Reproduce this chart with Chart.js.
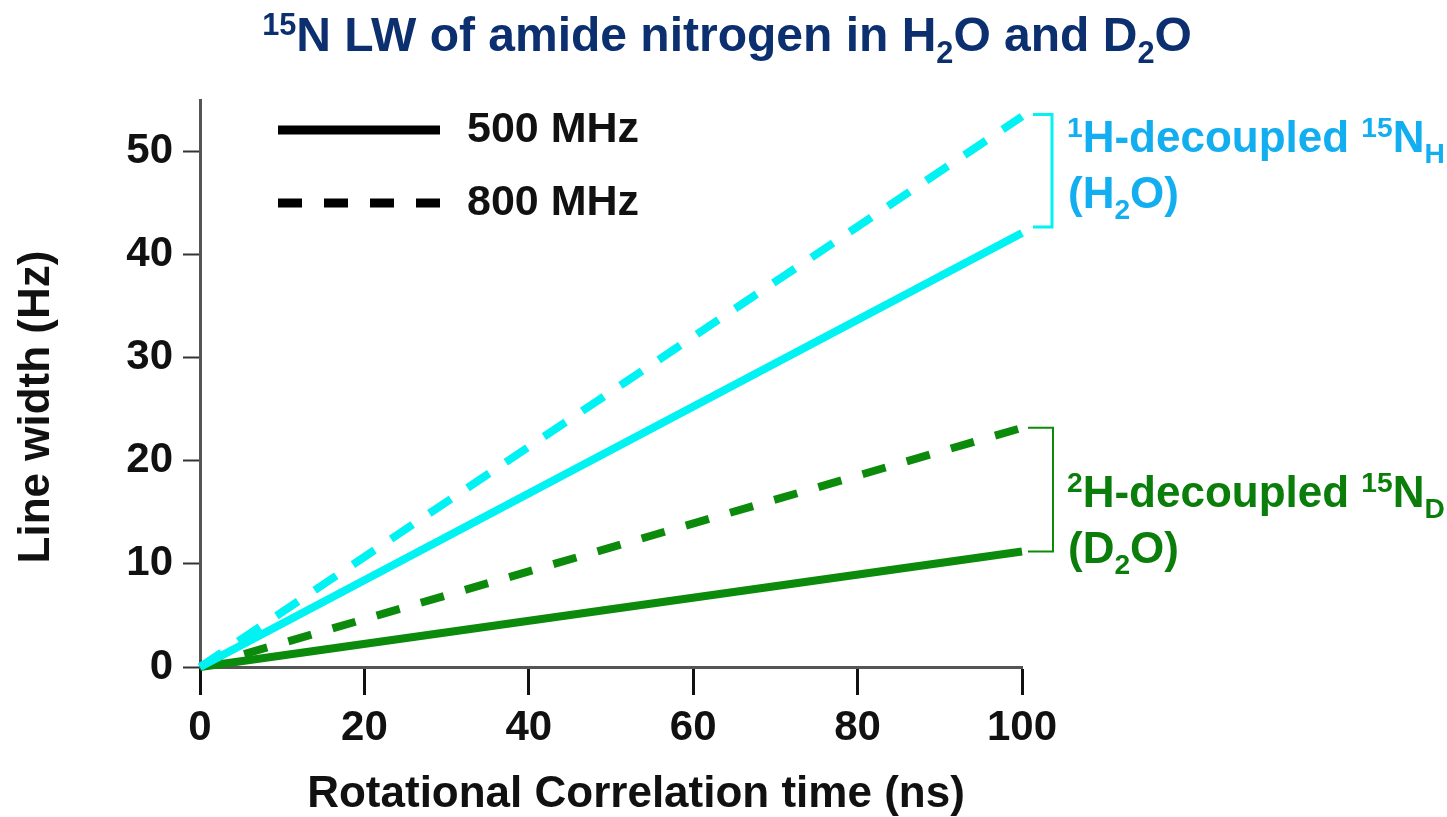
<!DOCTYPE html>
<html>
<head>
<meta charset="utf-8">
<script src="https://cdn.jsdelivr.net/npm/chart.js@4/dist/chart.umd.min.js"></script>
<style>
  html, body { margin: 0; padding: 0; background: #fff; }
  #wrap { width: 1447px; height: 817px; }
</style>
</head>
<body>
<div id="wrap"><canvas id="lwChart" width="1447" height="817"></canvas></div>
<script>
// Data: 15N line width vs rotational correlation time
const timeNs = [0, 100];
const h2o500 = [0, 42.1];
const h2o800 = [0, 53.4];
const d2o500 = [0, 11.2];
const d2o800 = [0, 23.2];
const xTicks = [0, 20, 40, 60, 80, 100];
const yTicks = [0, 10, 20, 30, 40, 50];
const fieldLabels = ['500 MHz', '800 MHz'];

const FONT = '"Liberation Sans", Arial, Helvetica, sans-serif';
const CYAN = '#00f2f2';
const CYAN_TEXT = '#12aef0';
const GREEN = '#0b8a0b';
const GREEN_TEXT = '#0a7d0a';
const NAVY = '#0b2f6f';

function toPoints(xs, ys) {
  return xs.map((x, i) => ({ x, y: ys[i] }));
}

// draws text runs with super/subscripts, returns total width
function drawRich(ctx, x, y, runs, size, color, measureOnly) {
  let cx = x;
  runs.forEach(([text, mode]) => {
    let fs = size, dy = 0;
    if (mode === 'sup') { fs = size * 0.64; dy = -size * 0.33; }
    if (mode === 'sub') { fs = size * 0.64; dy = size * 0.24; }
    ctx.font = 'bold ' + fs + 'px ' + FONT;
    if (!measureOnly) {
      ctx.fillStyle = color;
      ctx.fillText(text, cx, y + dy);
    }
    cx += ctx.measureText(text).width;
  });
  return cx - x;
}

const decorPlugin = {
  id: 'decor',
  afterDraw(chart) {
    const { ctx, chartArea } = chart;
    const sy = chart.scales.y;
    ctx.save();
    ctx.textAlign = 'left';
    ctx.textBaseline = 'alphabetic';

    // title
    const titleRuns = [['15', 'sup'], ['N LW of amide nitrogen in H', ''], ['2', 'sub'],
      ['O and D', ''], ['2', 'sub'], ['O', '']];
    const tw = drawRich(ctx, 0, 0, titleRuns, 48, NAVY, true);
    drawRich(ctx, 727 - tw / 2, 51, titleRuns, 48, NAVY);

    // axis titles
    ctx.font = 'bold 44px ' + FONT;
    ctx.fillStyle = '#111';
    ctx.textAlign = 'center';
    ctx.fillText('Rotational Correlation time (ns)', 636, 807);

    ctx.save();
    ctx.translate(37, 407);
    ctx.rotate(-Math.PI / 2);
    ctx.textBaseline = 'middle';
    ctx.fillText('Line width (Hz)', 0, 0);
    ctx.restore();
    ctx.textAlign = 'left';

    // legend
    ctx.strokeStyle = '#000';
    ctx.lineWidth = 9;
    ctx.lineCap = 'butt';
    ctx.beginPath();
    ctx.moveTo(278, 130); ctx.lineTo(440, 130);
    ctx.stroke();
    ctx.setLineDash([24, 22]);
    ctx.beginPath();
    ctx.moveTo(278, 203); ctx.lineTo(441, 203);
    ctx.stroke();
    ctx.setLineDash([]);
    ctx.font = 'bold 43px ' + FONT;
    ctx.fillStyle = '#111';
    ctx.fillText(fieldLabels[0], 467, 142);
    ctx.fillText(fieldLabels[1], 467, 215);

    // brackets
    const r = chartArea.right;
    const cTop = sy.getPixelForValue(h2o800[1]) - 2;
    const cBot = sy.getPixelForValue(h2o500[1]) - 6;
    ctx.strokeStyle = CYAN;
    ctx.lineWidth = 3;
    ctx.beginPath();
    ctx.moveTo(r + 11, cTop); ctx.lineTo(r + 30, cTop);
    ctx.lineTo(r + 30, cBot); ctx.lineTo(r + 11, cBot);
    ctx.stroke();

    const gTop = sy.getPixelForValue(d2o800[1]);
    const gBot = sy.getPixelForValue(d2o500[1]);
    ctx.strokeStyle = GREEN;
    ctx.lineWidth = 2;
    ctx.beginPath();
    ctx.moveTo(r + 6, gTop); ctx.lineTo(r + 31, gTop);
    ctx.lineTo(r + 31, gBot); ctx.lineTo(r + 6, gBot);
    ctx.stroke();

    // annotation text
    drawRich(ctx, 1067, 152, [['1', 'sup'], ['H-decoupled ', ''], ['15', 'sup'], ['N', ''], ['H', 'sub']], 44, CYAN_TEXT);
    drawRich(ctx, 1068, 208, [['(H', ''], ['2', 'sub'], ['O)', '']], 44, CYAN_TEXT);
    drawRich(ctx, 1067, 507, [['2', 'sup'], ['H-decoupled ', ''], ['15', 'sup'], ['N', ''], ['D', 'sub']], 44, GREEN_TEXT);
    drawRich(ctx, 1068, 563, [['(D', ''], ['2', 'sub'], ['O)', '']], 44, GREEN_TEXT);

    ctx.restore();
  }
};

const tickFont = { family: FONT, size: 42, weight: 'bold' };

new Chart(document.getElementById('lwChart').getContext('2d'), {
  type: 'line',
  data: {
    datasets: [
      {
        label: '800 MHz H2O',
        data: toPoints(timeNs, h2o800),
        borderColor: CYAN,
        borderWidth: 8,
        borderDash: [26, 20],
      },
      {
        label: '500 MHz H2O',
        data: toPoints(timeNs, h2o500),
        borderColor: CYAN,
        borderWidth: 8,
      },
      {
        label: '800 MHz D2O',
        data: toPoints(timeNs, d2o800),
        borderColor: GREEN,
        borderWidth: 8,
        borderDash: [24, 22],
      },
      {
        label: '500 MHz D2O',
        data: toPoints(timeNs, d2o500),
        borderColor: GREEN,
        borderWidth: 8,
      },
    ],
  },
  options: {
    responsive: false,
    animation: false,
    clip: false,
    layout: { padding: { left: 0, top: 100, right: 425, bottom: 0 } },
    elements: {
      point: { radius: 0 },
      line: { borderCapStyle: 'butt', tension: 0 },
    },
    plugins: {
      legend: { display: false },
      title: { display: false },
      tooltip: { enabled: false },
    },
    scales: {
      x: {
        type: 'linear',
        min: 0,
        max: 100,
        afterBuildTicks: (s) => { s.ticks = xTicks.map((v) => ({ value: v })); },
        afterFit: (s) => { s.height = 150; },
        grid: { drawOnChartArea: false, tickLength: 28, tickWidth: 3, tickColor: '#111' },
        border: { color: '#555', width: 3 },
        ticks: { font: tickFont, color: '#111', padding: 8, maxRotation: 0 },
      },
      y: {
        type: 'linear',
        min: 0,
        max: 55,
        afterBuildTicks: (s) => { s.ticks = yTicks.map((v) => ({ value: v })); },
        afterFit: (s) => { s.width = 200; },
        grid: { drawOnChartArea: false, tickLength: 17, tickWidth: 2, tickColor: '#333' },
        border: { color: '#555', width: 3 },
        ticks: { font: tickFont, color: '#111', padding: 10 },
      },
    },
  },
  plugins: [decorPlugin],
});
</script>
</body>
</html>
